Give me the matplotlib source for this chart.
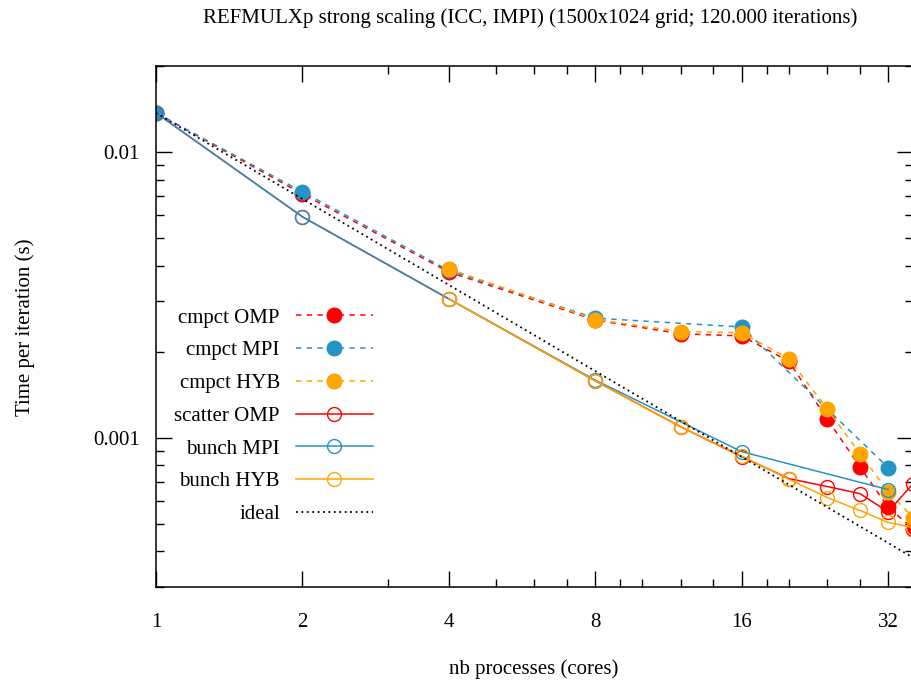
import numpy as np
import matplotlib
matplotlib.use("Agg")
import matplotlib.pyplot as plt
from matplotlib.ticker import FixedLocator, FixedFormatter, LogLocator, NullFormatter

plt.rcParams['font.family'] = ['Liberation Serif', 'DejaVu Serif']
plt.rcParams['font.size'] = 15

# --- data (time per iteration, s) ---
x_omp = [1, 2, 4, 8, 12, 16, 20, 24, 28, 32, 36]
x_mpi = [1, 2, 4, 8, 16, 32]
x_hyb = [4, 8, 12, 16, 20, 24, 28, 32, 36]

cmpct_omp = [0.0137, 0.00713, 0.0038, 0.00258, 0.00231, 0.00227, 0.00185, 0.00116, 0.00079, 0.00057, 0.00048]
cmpct_mpi = [0.0137, 0.00725, 0.00385, 0.00262, 0.00244, 0.000786]
cmpct_hyb = [0.0039, 0.00259, 0.00235, 0.00233, 0.00189, 0.00126, 0.000879, 0.000647, 0.000525]
scatter_omp = [0.0137, 0.00593, 0.00306, 0.00158, 0.00109, 0.000858, 0.000719, 0.000674, 0.000637, 0.00055, 0.00069]
bunch_mpi = [0.0137, 0.00593, 0.00306, 0.00159, 0.000893, 0.000658]
bunch_hyb = [0.00306, 0.00158, 0.00109, 0.000862, 0.000715, 0.000617, 0.000556, 0.000505, 0.000484]
x_ideal = [1, 2, 4, 8, 16, 32, 36]
ideal = [0.0137, 0.00685, 0.003425, 0.00171, 0.000856, 0.000428, 0.00038]

RED, BLUE, ORANGE = "#ff0000", "#2394c4", "#ffa500"
dash = (0, (3.5, 3.5))

fig = plt.figure(figsize=(9.12, 6.82), dpi=100)
ax = fig.add_axes([156/912, 95/682, 757/912, 521/682])

ax.plot(x_omp, cmpct_omp, ls=dash, color=RED, lw=1.1, marker="o", ms=10.5, label="cmpct OMP")
ax.plot(x_mpi, cmpct_mpi, ls=dash, color=BLUE, lw=1.1, marker="o", ms=10.5, label="cmpct MPI")
ax.plot(x_hyb, cmpct_hyb, ls=dash, color=ORANGE, lw=1.1, marker="o", ms=10.5, label="cmpct HYB")
ax.plot(x_omp, scatter_omp, color=RED, lw=1.1, marker="o", ms=10, mfc="none", mew=1.0, label="scatter OMP")
ax.plot(x_mpi, bunch_mpi, color=BLUE, lw=1.1, marker="o", ms=10, mfc="none", mew=1.0, label="bunch MPI")
ax.plot(x_hyb, bunch_hyb, color=ORANGE, lw=1.1, marker="o", ms=10, mfc="none", mew=1.0, label="bunch HYB")
ax.plot(x_ideal, ideal, color="black", lw=1.3, ls=(0, (1, 2)), label="ideal")

ax.set_xscale("log", base=2)
ax.set_yscale("log")
ax.set_xlim(1, 36)
ax.set_ylim(0.0003, 0.02)

ax.xaxis.set_major_locator(FixedLocator([1, 2, 4, 8, 16, 32]))
ax.xaxis.set_major_formatter(FixedFormatter(["1", "2", "4", "8", "16", "32"]))
ax.xaxis.set_minor_locator(FixedLocator([3, 5, 6, 7, 9, 10, 12, 14, 18, 20, 24, 28]))
ax.xaxis.set_minor_formatter(NullFormatter())
ax.yaxis.set_major_locator(FixedLocator([0.001, 0.01]))
ax.yaxis.set_major_formatter(FixedFormatter(["0.001", "0.01"]))
ax.yaxis.set_minor_locator(LogLocator(base=10, subs=np.arange(2, 10)))
ax.yaxis.set_minor_formatter(NullFormatter())

ax.tick_params(which="both", direction="in", top=True, right=True, width=1.0, colors="black")
ax.tick_params(which="major", length=11.5)
ax.tick_params(which="minor", length=5.8)
ax.tick_params(axis="x", which="major", pad=18.5, labelsize=15)
ax.tick_params(axis="y", which="major", pad=11.5, labelsize=15)
for s in ax.spines.values():
    s.set_linewidth(1.1)

fig.text(534/912, 1 - 669/682, "nb processes (cores)", ha="center", va="center", fontsize=15)
fig.text(25/912, 1 - 327/682, "Time per iteration (s)", ha="center", va="center",
         rotation=90, fontsize=15)
fig.text(530/912, 1 - 18/682, "REFMULXp strong scaling (ICC, IMPI) (1500x1024 grid; 120.000 iterations)",
         ha="center", va="center", fontsize=15)

ax.legend(loc="center right", bbox_to_anchor=((373-156)/757, (587-416)/521),
          frameon=False, markerfirst=False, numpoints=1, handlelength=3.7,
          handletextpad=0.77, labelspacing=0.63, borderpad=0, borderaxespad=0, fontsize=15)

plt.savefig("out.png", dpi=100)
